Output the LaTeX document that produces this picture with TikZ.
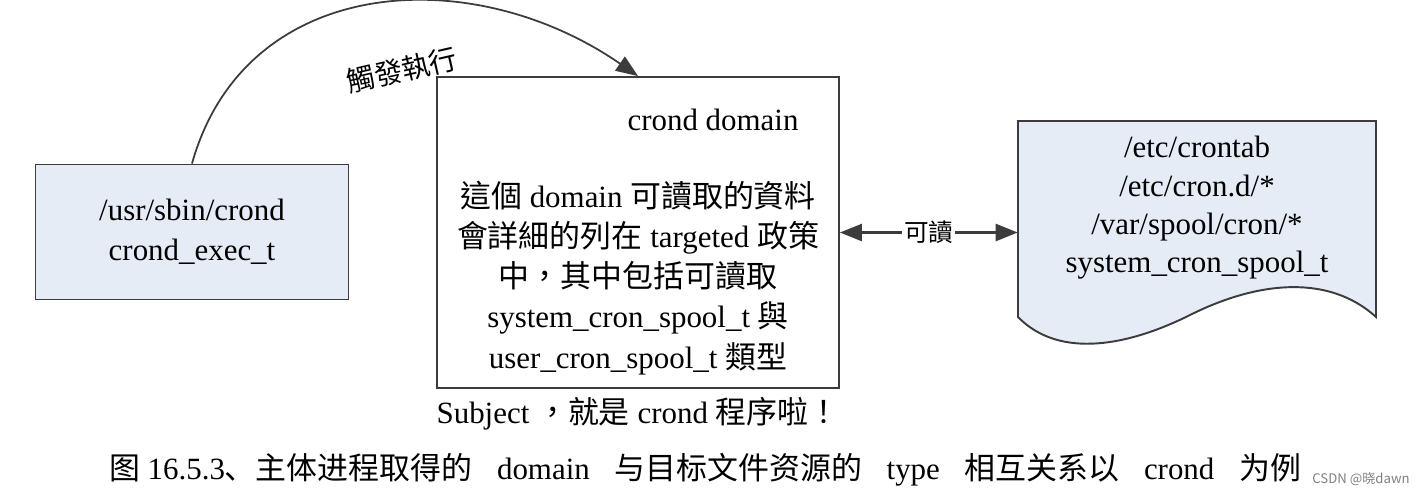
\documentclass[tikz,border=0pt]{standalone}
\usepackage{fontspec}
\setmainfont{Liberation Serif}
\newfontfamily\tcfont{Noto Sans CJK TC}
\newfontfamily\scfont{Noto Sans CJK SC}
\newcommand{\zh}[1]{{\tcfont #1}}
\newcommand{\zs}[1]{{\scfont #1}}
\usetikzlibrary{positioning}
\usetikzlibrary{arrows.meta}
\definecolor{boxblue}{HTML}{E6ECF6}
\definecolor{edgegray}{HTML}{3C3C3C}

\begin{document}
\begin{tikzpicture}[x=0.02cm, y=-0.02cm,
    font=\fontsize{17.6}{22.7}\selectfont,
    >={Triangle[length=0.44cm, width=0.34cm]},
    box/.style={draw=edgegray, line width=1.1pt, align=center, inner sep=0pt},
    link/.style={draw=edgegray, line width=1pt}]

    \useasboundingbox (0,0) rectangle (1417,495);

    \node [box, fill=boxblue, minimum width=6.26cm, minimum height=2.7cm] (exec) at (192,232) {/usr/sbin/crond\\crond\_exec\_t};
    \node [box, fill=white, minimum width=8.04cm, minimum height=6.22cm] (mid) at (638,232.5) {};
    \node (title) at (713,120) {crond domain};
    \node [align=center, font=\fontsize{17.6}{22.8}\selectfont] (detail) at (638,278) {%
        \zh{這個} domain \zh{可讀取的資料}\\
        \zh{會詳細的列在} targeted \zh{政策}\\
        \zh{中，其中包括可讀取}\\
        system\_cron\_spool\_t \zh{與}\\
        user\_cron\_spool\_t \zh{類型}};
    \node [below=0.05cm of mid] (subject) {Subject \zh{，就是} crond \zh{程序啦！}};

    % file shape
    \draw [draw=edgegray, fill=boxblue, line width=1.1pt] (1018,317) -- (1018,121) -- (1376,121) -- (1376,317)
        .. controls (1330,275) and (1260,280) .. (1190,315)
        .. controls (1130,345) and (1060,360) .. (1018,317) -- cycle;
    \node [align=center, minimum width=7.16cm, inner xsep=0pt, font=\fontsize{17.6}{21.8}\selectfont] (files) at (1197,208)
        {/etc/crontab\\/etc/cron.d/*\\/var/spool/cron/*\\system\_cron\_spool\_t};

    \draw [link, ->] (exec.north) .. controls (245,-25) and (470,-40) .. (mid.north);
    \node [rotate=13, font=\fontsize{16}{17}\selectfont] (trigger) at (402,70) {\zh{觸發執行}};

    \draw [link, line width=1.4pt, <->] (mid.east) -- (mid.east -| files.west)
        node [midway, fill=white, inner sep=1pt, font=\fontsize{14}{14}\selectfont] (read) {\zh{可讀}};

    \node (caption) at (705,470) {\zs{图} 16.5.3\zs{、主体进程取得的}\hspace{0.8em}domain\hspace{0.8em}\zs{与目标文件资源的}\hspace{0.8em}type\hspace{0.8em}\zs{相互关系以}\hspace{0.8em}crond\hspace{0.8em}\zs{为例}};
    \node [anchor=west, text=gray, inner sep=0pt, font=\scfont\fontsize{7.5}{8}\selectfont] (mark) at (1312,479) {CSDN @晓dawn};
\end{tikzpicture}
\end{document}
